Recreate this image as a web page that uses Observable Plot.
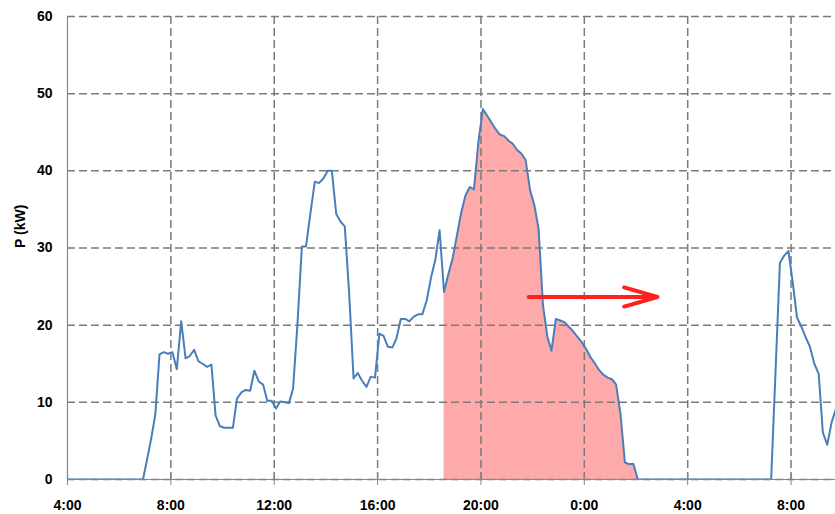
<!DOCTYPE html>
<html>
<head>
<meta charset="utf-8">
<script src="https://cdn.jsdelivr.net/npm/d3@7"></script>
<script src="https://cdn.jsdelivr.net/npm/@observablehq/plot@0.6"></script>
<style>
  html, body { margin: 0; padding: 0; background: #fff; }
  #chart { width: 835px; height: 514px; }
</style>
</head>
<body>
<div id="chart"></div>
<script>
// Hours since midnight of day 1 (24 = 0:00 next day)
const hours = [
  4.0, 6.92, 7.08, 7.25, 7.40, 7.56, 7.72, 7.89, 8.06, 8.23, 8.40, 8.57, 8.73, 8.90,
  9.07, 9.23, 9.40, 9.57, 9.73, 9.90, 10.07, 10.23, 10.40, 10.56, 10.73, 10.90,
  11.07, 11.23, 11.40, 11.57, 11.73, 11.90, 12.07, 12.23, 12.40, 12.57, 12.73, 12.90,
  13.07, 13.23, 13.40, 13.57, 13.73, 13.90, 14.07, 14.23, 14.40, 14.57, 14.73, 14.90,
  15.07, 15.23, 15.40, 15.57, 15.73, 15.90, 16.07, 16.23, 16.40, 16.57, 16.73, 16.90,
  17.07, 17.23, 17.40, 17.57, 17.73, 17.90, 18.07, 18.23, 18.40, 18.57, 18.73, 18.90,
  19.07, 19.23, 19.40, 19.57, 19.73, 19.90, 20.07, 20.23, 20.40, 20.57, 20.73, 20.90,
  21.07, 21.23, 21.40, 21.57, 21.73, 21.90, 22.07, 22.23, 22.40, 22.57, 22.73, 22.90,
  23.07, 23.23, 23.40, 23.57, 23.73, 23.90, 24.07, 24.23, 24.40, 24.57, 24.73, 24.90,
  25.07, 25.23, 25.40, 25.57, 25.73, 25.90, 26.07, 31.23, 31.57, 31.73, 31.90, 32.07,
  32.23, 32.40, 32.57, 32.73, 32.90, 33.07, 33.23, 33.40, 33.57, 33.73
];
const power = [
  0, 0, 2.6, 5.5, 8.5, 16.2, 16.5, 16.3, 16.5, 14.3, 20.5, 15.7, 16.0, 16.8,
  15.3, 15.0, 14.6, 14.9, 8.3, 6.9, 6.7, 6.7, 6.7, 10.5, 11.3, 11.6,
  11.5, 14.1, 12.7, 12.3, 10.2, 10.2, 9.2, 10.1, 10.0, 9.9, 11.8, 20.2,
  30.2, 30.2, 34.5, 38.6, 38.4, 39.0, 40.0, 40.0, 34.4, 33.4, 32.8, 24.1,
  13.1, 13.8, 12.8, 12.0, 13.3, 13.2, 18.9, 18.6, 17.2, 17.1, 18.3, 20.8,
  20.8, 20.5, 21.1, 21.4, 21.4, 23.2, 26.2, 28.4, 32.3, 24.3, 26.5, 28.6,
  31.6, 34.5, 36.8, 37.9, 37.6, 43.7, 48.0, 47.2, 46.3, 45.4, 44.7, 44.5,
  43.9, 43.5, 42.7, 42.2, 41.4, 37.5, 35.5, 32.5, 22.6, 18.5, 16.7, 20.8,
  20.6, 20.4, 19.8, 19.2, 18.5, 17.8, 16.9, 15.9, 15.1, 14.2, 13.6, 13.2,
  13.0, 12.3, 8.5, 2.2, 2.0, 2.0, 0, 0, 28.1, 29.0, 29.6, 25.4,
  21.0, 19.8, 18.4, 17.2, 15.0, 13.7, 6.1, 4.5, 7.4, 9.1
];
// Shaded evening period (start and end hour)
const shadeStart = 18.57;
const shadeEnd = 26.07;
// Arrow annotation (hours, kW)
const arrowFrom = [21.85, 23.65];
const arrowTo = [26.83, 23.65];

const xTicks = [4, 8, 12, 16, 20, 24, 28, 32];
const yTicks = [0, 10, 20, 30, 40, 50, 60];
const yLabel = "P (kW)";

const data = hours.map((h, i) => ({h, p: power[i]}));
const shaded = data.filter(d => d.h >= shadeStart && d.h <= shadeEnd);
const arrows = [{x1: arrowFrom[0], y1: arrowFrom[1], x2: arrowTo[0], y2: arrowTo[1]}];

const gridStyle = {stroke: "#7a7a7a", strokeOpacity: 1, strokeWidth: 1.5, strokeDasharray: "8,4"};
const axisColor = "#868686";

const chart = Plot.plot({
  width: 835,
  height: 514,
  marginLeft: 67,
  marginTop: 16,
  marginBottom: 35,
  marginRight: 0,
  style: {fontFamily: "'Liberation Sans', Arial, sans-serif", color: "#000", background: "#fff"},
  x: {domain: [4, 33.72]},
  y: {domain: [0, 60]},
  marks: [
    Plot.areaY(shaded, {x: "h", y: "p", fill: "#ffaaaa", curve: "linear"}),
    Plot.gridY(yTicks, gridStyle),
    Plot.gridX(xTicks.filter(t => t > 4), gridStyle),
    Plot.ruleX([4], {stroke: axisColor, strokeWidth: 1.2}),
    Plot.ruleY([0], {stroke: axisColor, strokeWidth: 1.2}),
    Plot.ruleX(xTicks, {x: d => d, y1: 0, y2: 0.65, stroke: axisColor, strokeWidth: 1.2}),
    Plot.axisX({ticks: xTicks, tickFormat: d => `${d % 24}:00`, tickSize: 6, tickPadding: 15,
      fontSize: 14, fontWeight: "bold", stroke: axisColor, label: null}),
    Plot.axisY({ticks: yTicks, tickSize: 0, tickPadding: 15, fontSize: 14, fontWeight: "bold", label: null}),
    Plot.line(data, {x: "h", y: "p", stroke: "#4a7ebb", strokeWidth: 2, clip: true}),
    Plot.arrow(arrows, {x1: "x1", y1: "y1", x2: "x2", y2: "y2", stroke: "#ff2020", strokeWidth: 4,
      headLength: 13, headAngle: 32, strokeLinecap: "round", strokeLinejoin: "round"}),
    Plot.text([yLabel], {frameAnchor: "left", dx: -47, rotate: -90, fontSize: 14, fontWeight: "bold", fill: "#000"})
  ]
});
document.getElementById("chart").appendChild(chart);
</script>
</body>
</html>
